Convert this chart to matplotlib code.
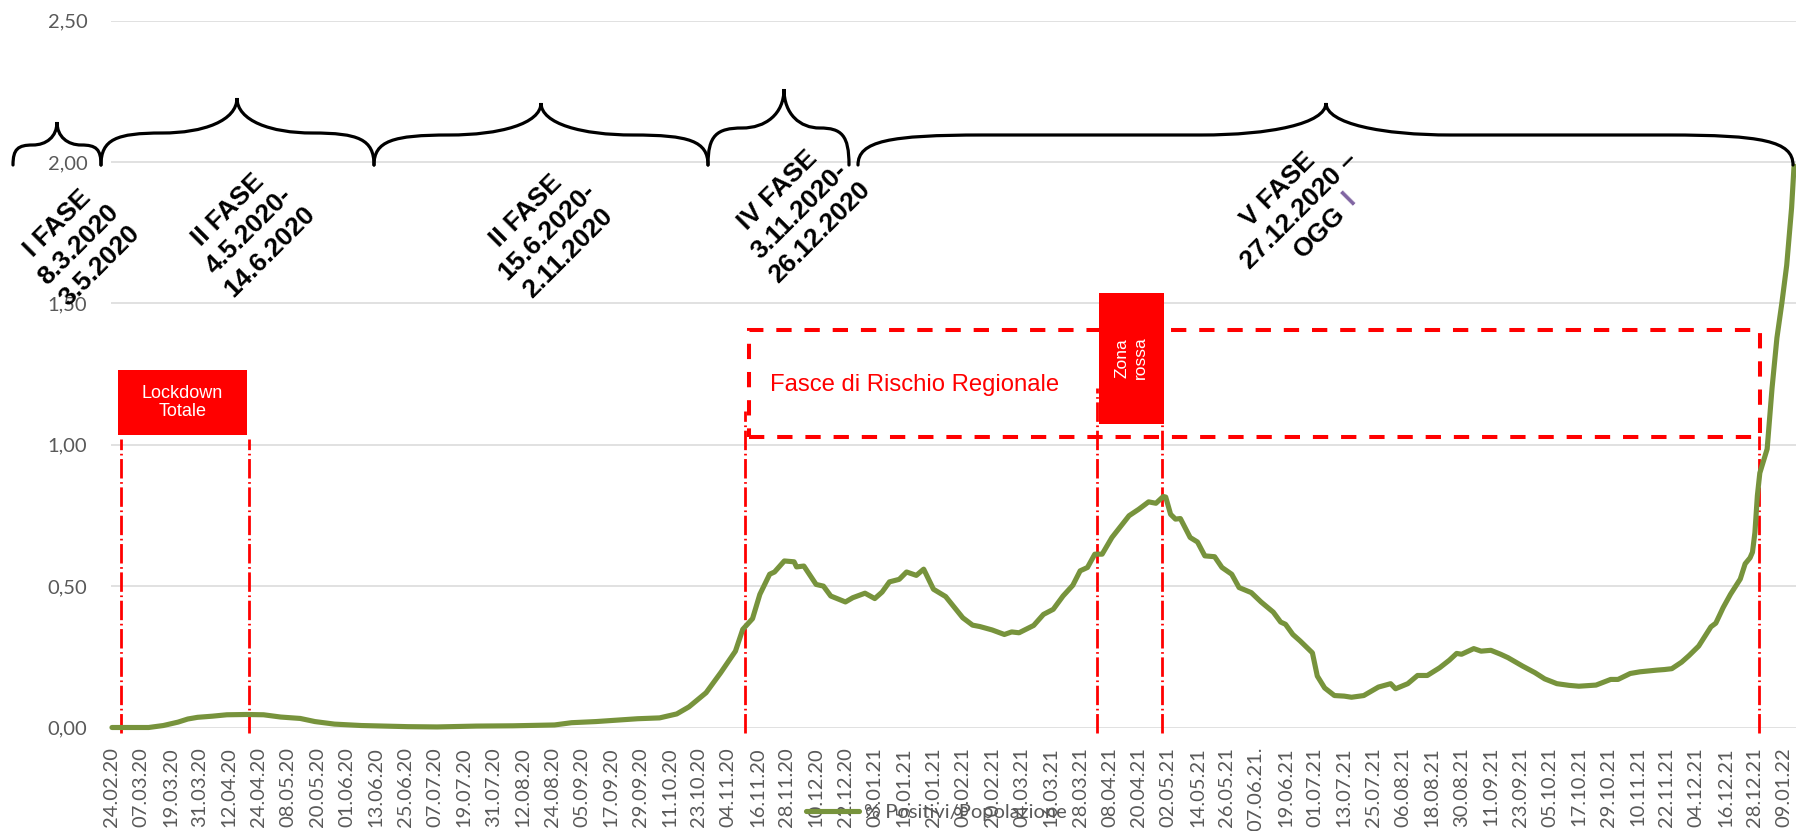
import matplotlib
matplotlib.use('Agg')
import matplotlib.pyplot as plt
from matplotlib.patches import Rectangle, PathPatch
from matplotlib.path import Path
from matplotlib.transforms import Affine2D

# ---- data (day index from 24.02.20, % positivi / popolazione) ----
giorno = [0, 15, 21, 27, 31, 35, 41, 47, 55, 62, 69, 77, 83, 91, 102, 121, 133, 149, 164, 181,
          188, 198, 215, 224, 231, 236, 243, 249, 255, 258, 262, 265, 269, 271, 275, 279, 280,
          283, 288, 291, 294, 300, 303, 308, 312, 315, 318, 322, 325, 329, 332, 336, 341, 348,
          352, 355, 360, 365, 368, 371, 377, 381, 385, 389, 393, 396, 399, 402, 405, 409, 416,
          420, 424, 427, 430, 431, 433, 435, 437, 441, 444, 447, 451, 454, 458, 461, 466, 470,
          475, 478, 480, 483, 486, 491, 493, 496, 500, 504, 507, 512, 518, 523, 525, 530, 534,
          538, 543, 547, 550, 552, 557, 560, 564, 568, 571, 577, 582, 586, 591, 596, 600, 607,
          613, 616, 621, 625, 632, 635, 638, 642, 645, 649, 654, 656, 659, 662, 666, 668, 670,
          671, 672, 673, 674, 677, 679, 681, 683, 685, 687, 688]
positivi = [0.000, 0.000, 0.007, 0.019, 0.030, 0.036, 0.040, 0.045, 0.046, 0.045, 0.037, 0.032,
            0.021, 0.012, 0.007, 0.003, 0.002, 0.005, 0.006, 0.009, 0.017, 0.021, 0.031, 0.034,
            0.048, 0.073, 0.123, 0.194, 0.270, 0.347, 0.385, 0.471, 0.542, 0.550, 0.589, 0.586,
            0.568, 0.571, 0.506, 0.500, 0.465, 0.444, 0.459, 0.475, 0.456, 0.479, 0.515, 0.524,
            0.550, 0.538, 0.560, 0.489, 0.463, 0.388, 0.362, 0.357, 0.345, 0.329, 0.338, 0.335,
            0.361, 0.400, 0.418, 0.465, 0.503, 0.554, 0.566, 0.613, 0.613, 0.672, 0.749, 0.772,
            0.798, 0.793, 0.817, 0.815, 0.754, 0.737, 0.739, 0.672, 0.656, 0.607, 0.604, 0.566,
            0.542, 0.495, 0.477, 0.444, 0.408, 0.373, 0.365, 0.329, 0.306, 0.264, 0.182, 0.140,
            0.113, 0.111, 0.107, 0.113, 0.143, 0.155, 0.137, 0.155, 0.184, 0.184, 0.211, 0.238,
            0.262, 0.259, 0.279, 0.270, 0.273, 0.259, 0.247, 0.217, 0.194, 0.172, 0.155, 0.149,
            0.146, 0.150, 0.170, 0.170, 0.191, 0.197, 0.203, 0.205, 0.208, 0.231, 0.254, 0.288,
            0.356, 0.369, 0.424, 0.471, 0.525, 0.579, 0.600, 0.620, 0.690, 0.820, 0.900, 0.985,
            1.200, 1.378, 1.500, 1.635, 1.838, 1.986]

etichette = ['24.02.20', '07.03.20', '19.03.20', '31.03.20', '12.04.20', '24.04.20', '08.05.20',
             '20.05.20', '01.06.20', '13.06.20', '25.06.20', '07.07.20', '19.07.20', '31.07.20',
             '12.08.20', '24.08.20', '05.09.20', '17.09.20', '29.09.20', '11.10.20', '23.10.20',
             '04.11.20', '16.11.20', '28.11.20', '10.12.20', '22.12.20', '03.01.21', '15.01.21',
             '27.01.21', '08.02.21', '20.02.21', '04.03.21', '16.03.21', '28.03.21', '08.04.21',
             '20.04.21', '02.05.21', '14.05.21', '26.05.21', '07.06.21.', '19.06.21', '01.07.21',
             '13.07.21', '25.07.21', '06.08.21', '18.08.21', '30.08.21', '11.09.21', '23.09.21',
             '05.10.21', '17.10.21', '29.10.21', '10.11.21', '22.11.21', '04.12.21', '16.12.21',
             '28.12.21', '09.01.22']
y_ticks = [0.0, 0.5, 1.0, 1.5, 2.0, 2.5]

fasi = ['I FASE\n8.3.2020\n3.5.2020',
        'II FASE\n4.5.2020-\n14.6.2020',
        'II FASE\n15.6.2020-\n2.11.2020',
        'IV FASE\n3.11.2020-\n26.12.2020',
        'V FASE\n27.12.2020 \u2013\nOGG']

W, H = 1796, 831
plt.rcParams['font.family'] = ['Lato', 'DejaVu Sans']
fig = plt.figure(figsize=(W / 100, H / 100), dpi=100)
ax = fig.add_axes([111 / W, (H - 727.5) / H, (W - 111) / W, (727.5 - 20.6) / H])

ax.plot(giorno, positivi, color='#77933C', lw=3.7, solid_joinstyle='round',
        solid_capstyle='round', clip_on=False, zorder=3, label='% Positivi/Popolazione')

ax.set_xlim(-0.4, 688.8)
ax.set_ylim(0, 2.5)
ax.set_yticks(y_ticks)
ax.set_yticklabels([f'{v:.2f}'.replace('.', ',') for v in y_ticks])
ax.set_xticks(range(0, 12 * len(etichette), 12))
ax.set_xticklabels(etichette, rotation=90)
ax.tick_params(axis='both', length=0, labelsize=14.5, labelcolor='#595959')
ax.tick_params(axis='y', pad=17)
ax.tick_params(axis='x', pad=14)
ax.yaxis.grid(True, color='#D9D9D9', lw=1.1)
ax.set_axisbelow(True)
for s in ax.spines.values():
    s.set_visible(False)

rosso = '#FF0000'
arial = 'Liberation Sans'
dashdot = (0, (7, 1.3, 0.6, 1.3))

# lockdown
ax.add_patch(Rectangle((2.5, 1.034), 52.7, 0.23, fc=rosso, ec='none', zorder=4, clip_on=False))
ax.text(28.8, 1.149, 'Lockdown\nTotale', color='white', fontsize=13, family=arial,
        ha='center', va='center', linespacing=1.05, zorder=5)
for xv, top in [(3.5, 1.02), (55.9, 1.02), (259, 1.12), (402.9, 1.2), (429.4, 1.073), (673.5, 1.03)]:
    ax.plot([xv, xv], [-0.02, top], color=rosso, lw=2, linestyle=dashdot, clip_on=False, zorder=2)

# fasce di rischio
ax.add_patch(Rectangle((260.5, 1.027), 674.2 - 260.5, 1.406 - 1.027, fill=False, ec=rosso,
                       lw=2.9, linestyle=(0, (3.8, 3.2)), zorder=2))
ax.text(269.1, 1.211, 'Fasce di Rischio Regionale', color=rosso, fontsize=17.2, family=arial,
        ha='left', va='center')

# zona rossa
ax.add_patch(Rectangle((403.7, 1.073), 26.6, 0.464, fc=rosso, ec='none', zorder=4))
ax.text(417, 1.307, 'Zona\nrossa', color='white', fontsize=12.5, family=arial, rotation=90,
        ha='center', va='center', linespacing=1.25, zorder=5)

# graffe delle fasi (coordinate in pixel dell'immagine)
px = Affine2D().scale(1 / W, -1 / H).translate(0, 1) + fig.transFigure


def graffa(x0, x1, xt, yb, yp, yt):
    L, R = xt - x0, x1 - xt
    we_l, wt_l = min(0.45 * L, 125), min(0.55 * L, 125)
    we_r, wt_r = min(0.45 * R, 125), min(0.55 * R, 125)
    h = yb - yp
    k = yp - yt
    verts = [(x0, yb),
             (x0, yp + 0.2 * h), (x0 + 0.25 * we_l, yp), (x0 + we_l, yp),
             (xt - wt_l, yp),
             (xt - 0.45 * wt_l, yp), (xt, yp - 0.35 * k), (xt, yt),
             (xt, yp - 0.35 * k), (xt + 0.45 * wt_r, yp), (xt + wt_r, yp),
             (x1 - we_r, yp),
             (x1 - 0.25 * we_r, yp), (x1, yp + 0.2 * h), (x1, yb)]
    codes = [Path.MOVETO, Path.CURVE4, Path.CURVE4, Path.CURVE4, Path.LINETO,
             Path.CURVE4, Path.CURVE4, Path.CURVE4, Path.CURVE4, Path.CURVE4, Path.CURVE4,
             Path.LINETO, Path.CURVE4, Path.CURVE4, Path.CURVE4]
    fig.add_artist(PathPatch(Path(verts, codes), transform=px, fill=False, ec='black',
                             lw=2.3, capstyle='round'))


graffa(13, 101, 57, 165, 145, 122)
graffa(101, 374, 237, 165, 133, 98)
graffa(374, 708, 541, 165, 135, 103)
graffa(708, 849, 784, 165, 128, 89)
graffa(858, 1793, 1326, 165, 135, 103)

centri = [(79, 245), (249, 231), (547, 232), (799, 211), (1299, 211)]
for testo, (cx, cy) in zip(fasi, centri):
    fig.text(cx, cy, testo, transform=px, rotation=45, rotation_mode='anchor', ha='center',
             va='center', multialignment='center', fontsize=19, fontweight='bold',
             family=arial, linespacing=1.3)
fig.text(1349, 198, 'I', transform=px, rotation=45, rotation_mode='anchor', ha='center',
         va='center', fontsize=19, fontweight='bold', family=arial, color='#8064A2')

fig.legend(loc='center left', bbox_to_anchor=(806 / W, 1 - 812 / H), frameon=False,
           borderpad=0, borderaxespad=0, handlelength=2.65, handletextpad=0.25,
           fontsize=14.5, labelcolor='#595959')

fig.savefig('out.png', dpi=100)
plt.close()
